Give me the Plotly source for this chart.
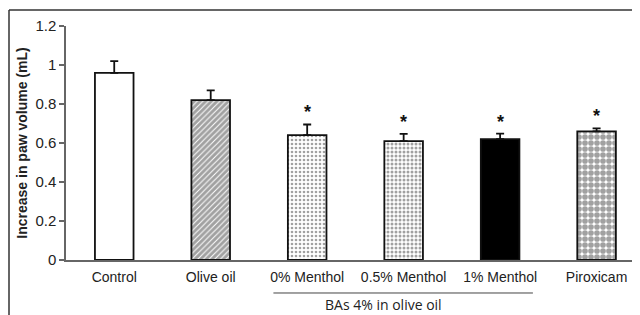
import plotly.graph_objects as go

categories = ["Control", "Olive oil", "0% Menthol", "0.5% Menthol", "1% Menthol", "Piroxicam"]
means = [0.96, 0.82, 0.64, 0.61, 0.62, 0.66]
sems = [0.06, 0.05, 0.055, 0.037, 0.028, 0.015]
significant = [False, False, True, True, True, True]
y_ticks = [0, 0.2, 0.4, 0.6, 0.8, 1, 1.2]
y_tick_labels = ["0", "0.2", "0.4", "0.6", "0.8", "1", "1.2"]
group_label = "BAs 4% in olive oil"

fills = ["white", "white", "white", "white", "black", "white"]
patterns = [
    dict(shape=""),
    dict(shape="/", fgcolor="black", bgcolor="white", size=4, solidity=0.75),
    dict(shape=".", fgcolor="#777", bgcolor="white", size=4, solidity=0.35),
    dict(shape=".", fgcolor="#555", bgcolor="white", size=4, solidity=0.45),
    dict(shape=""),
    dict(shape=".", fgcolor="black", bgcolor="white", size=6, solidity=0.7),
]

fig = go.Figure()
fig.add_trace(go.Bar(
    x=categories, y=means, width=0.4,
    marker=dict(color=fills, pattern=dict(
        shape=[p["shape"] for p in patterns],
        fgcolor=[p.get("fgcolor", "black") for p in patterns],
        bgcolor=[p.get("bgcolor", f) for p, f in zip(patterns, fills)],
        size=[p.get("size", 6) for p in patterns],
        solidity=[p.get("solidity", 0.3) for p in patterns],
    ), line=dict(color="#111", width=1.8)),
    error_y=dict(type="data", array=sems, arrayminus=[0]*len(sems), symmetric=False,
                 color="#111", thickness=1.8, width=4),
    showlegend=False,
))

for i, (c, m, s, sig) in enumerate(zip(categories, means, sems, significant)):
    if sig:
        fig.add_annotation(x=c, y=m + s, text="<b>*</b>", showarrow=False,
                           yanchor="bottom", yshift=0, font=dict(size=18, color="#111"))

# group bracket line and label
fig.add_shape(type="line", xref="x", yref="paper", x0=1.65, x1=4.34, y0=-0.141, y1=-0.141,
              line=dict(color="#444", width=1))
fig.add_annotation(xref="x", yref="paper", x=2.786, y=-0.192, yanchor="middle", xanchor="center",
                   text=group_label, showarrow=False,
                   font=dict(size=14, color="#222", family="Open Sans, Liberation Sans, Arial"))

# outer frame (top and left)
fig.add_shape(type="line", xref="paper", yref="paper", x0=-0.0993, x1=1.02, y0=1.068, y1=1.068,
              line=dict(color="#333", width=1.5))
fig.add_shape(type="line", xref="paper", yref="paper", x0=-0.0993, x1=-0.0993, y0=1.068, y1=-0.3,
              line=dict(color="#333", width=1.5))

fig.update_layout(
    width=632, height=307,
    margin=dict(l=58, r=0, t=18, b=55),
    plot_bgcolor="white", paper_bgcolor="white",
    font=dict(family="Liberation Sans, Arial", size=14, color="#222"),
    xaxis=dict(range=[-0.5, 5.45], showline=True, linecolor="#666", linewidth=1.5,
               ticks="", showgrid=False, tickfont=dict(size=14), ticklabelstandoff=3),
    yaxis=dict(range=[0, 1.2], tickvals=y_ticks, ticktext=y_tick_labels,
               showline=True, linecolor="#666", linewidth=1.5, ticks="outside", ticklen=5,
               tickcolor="#666", tickwidth=1.5, showgrid=False, zeroline=False,
               tickfont=dict(size=15),
               title=dict(text="<b>Increase in paw volume (mL)</b>", font=dict(size=14), standoff=4)),
)

fig.write_html("out.html")
